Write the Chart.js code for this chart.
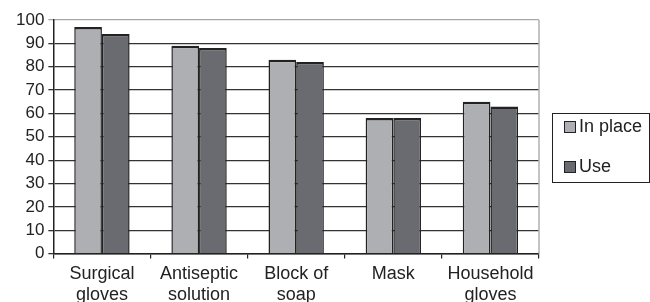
<!DOCTYPE html>
<html>
<head>
<meta charset="utf-8">
<script src="https://cdn.jsdelivr.net/npm/chart.js@4"></script>
<style>
  html,body{margin:0;padding:0;background:#fff}
  #wrap{position:relative;width:650px;height:302px}
  #legend{position:absolute;left:552px;top:113px;width:98px;height:70px;border:1px solid #222;
    font-family:"Liberation Sans",Arial,sans-serif;font-size:18px;color:#222;box-sizing:border-box}
  .li{position:absolute;left:11px;display:flex;align-items:center;white-space:nowrap}
  .sw{width:10px;height:10px;border:1px solid #222;margin-right:3px}
</style>
</head>
<body>
<div id="wrap">
  <canvas id="c" width="650" height="302"></canvas>
  <div id="legend"></div>
</div>
<script>
// categories and series
const CATS=[['Surgical','gloves'],['Antiseptic','solution'],['Block of','soap'],['Mask',''],['Household','gloves']];
const IN_PLACE=[97,89,83,58,65];
const USE=[94,88,82,58,63];
const SERIES=['In place','Use'];
const COLS=['#aeafb3','#6a6b70'];
const Y_MIN=0, Y_MAX=100, Y_STEP=10;

const FONT='"Liberation Sans",Arial,sans-serif';

const rightBorder={id:'rightBorder',afterDraw(ch){
  const a=ch.chartArea,ctx=ch.ctx;
  ctx.save();ctx.strokeStyle='#b0b0b0';ctx.lineWidth=1.5;
  ctx.beginPath();ctx.moveTo(a.right,a.top);ctx.lineTo(a.right,a.bottom);ctx.stroke();
  ctx.restore();
}};

const bw={top:2.5,left:1.5,right:1.5,bottom:0};
new Chart(document.getElementById('c'),{
  type:'bar',
  data:{labels:CATS,datasets:[
    {label:SERIES[0],data:IN_PLACE,backgroundColor:COLS[0],borderColor:'#222',borderWidth:bw,borderSkipped:'start'},
    {label:SERIES[1],data:USE,backgroundColor:COLS[1],borderColor:'#222',borderWidth:bw,borderSkipped:'start'}
  ]},
  options:{responsive:false,animation:false,
    categoryPercentage:0.57,barPercentage:1,
    layout:{padding:{left:12,right:111,top:20,bottom:-8}},
    plugins:{legend:{display:false},tooltip:{enabled:false}},
    scales:{
      x:{grid:{offset:true,drawOnChartArea:false,drawTicks:true,tickLength:5,color:'#222',lineWidth:1.2},
         border:{color:'#222',width:1.5},
         ticks:{font:{family:FONT,size:18,lineHeight:1.15},color:'#222',padding:5,maxRotation:0,autoSkip:false}},
      y:{min:Y_MIN,max:Y_MAX,
         grid:{color:c=>c.tick&&c.tick.value===Y_MAX?'#a8a8a8':'#333',lineWidth:1.3,tickLength:5},
         border:{color:'#222',width:1.5},
         ticks:{stepSize:Y_STEP,autoSkip:false,font:{family:FONT,size:17},color:'#222',padding:4}}
    }
  },
  plugins:[rightBorder]
});

document.getElementById('legend').innerHTML=SERIES.map((s,i)=>
  `<div class="li" style="top:${i?42:2}px"><span class="sw" style="background:${COLS[i]}"></span>${s}</div>`).join('');
</script>
</body>
</html>
